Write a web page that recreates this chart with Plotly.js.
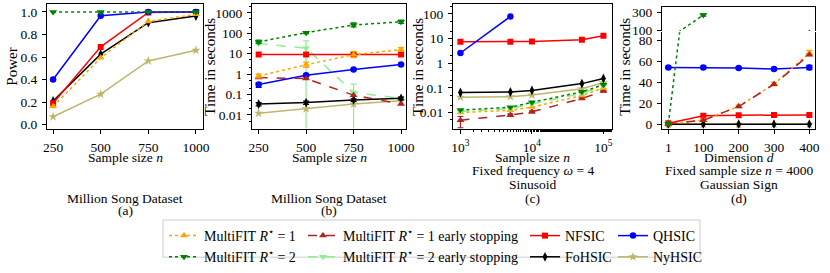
<!DOCTYPE html>
<html>
<head>
<meta charset="utf-8">
<script src="https://cdn.plot.ly/plotly-3.0.1.min.js"></script>
<style>html,body{margin:0;padding:0;background:#fff;}#chart{width:830px;height:273px;}</style>
</head>
<body>
<div id="chart"></div>
<script>
// ---------- DATA ----------
// (a) Million Song Dataset: power vs sample size
const sampleSizesA = [250, 500, 750, 1000];
const powA_MF1 = [0.16, 0.594, 0.915, 0.98];
const powA_MF2 = [1.0, 1.0, 1.0, 1.0];
const powA_NFSIC = [0.19, 0.69, 0.995, 1.0];
const powA_FoHSIC = [0.21, 0.625, 0.905, 0.963];
const powA_QHSIC = [0.40, 0.966, 1.0, 1.0];
const powA_NyHSIC = [0.07, 0.27, 0.565, 0.66];
const powTicks = [0, 0.2, 0.4, 0.6, 0.8, 1.0];
const powTickText = ["0.0", "0.2", "0.4", "0.6", "0.8", "1.0"];

// (b) Million Song Dataset: time vs sample size
const sampleSizesB = [250, 500, 750, 1000];
const timeB_MF1 = [0.8, 2.84, 8.9, 15.9];
const timeB_MF1es = [0.68, 0.6, 0.093, 0.034];
const timeB_MF2 = [37.8, 107, 255, 365];
const timeB_MF2es = [31.6, 18.5, 0.124, 0.065];
const timeB_NFSIC = [9, 9, 9, 9];
const timeB_FoHSIC = [0.034, 0.04, 0.054, 0.065];
const timeB_QHSIC = [0.305, 0.87, 1.66, 2.95];
const timeB_NyHSIC = [0.012, 0.02, 0.034, 0.049];
const errB_MF2es_plus = [6, 23.5, 0.2, 0.01];
const errB_MF2es_minus = [5, 18.499, 0.1236, 0.008];
const errB_MF1_plus = [0.2, 1.0, 4, 4];
const errB_MF1_minus = [0.15, 0.7, 2.5, 3];
const errB_MF2_plus = [8, 15, 70, 80];
const errB_MF2_minus = [6, 12, 50, 60];
const errB_QHSIC = [0.08, 0.1, 0.1, 0.15];
const errB_FoHSIC = [0.006, 0.007, 0.008, 0.01];
const timeTicksB = [0.01, 0.1, 1, 10, 100, 1000];
const timeTickTextB = ["0.01", "0.1", "1", "10", "100", "1000"];

// (c) Sinusoid: time vs sample size (log-log)
const sampleSizesC = [1000, 5000, 10000, 50000, 100000];
const sampleSizesC_QHSIC = [1000, 5000];
const timeC_QHSIC = [2.6, 79];
const timeC_NFSIC = [7.5, 7.5, 7.6, 9, 12.9];
const timeC_FoHSIC = [0.065, 0.068, 0.079, 0.149, 0.24];
const timeC_NyHSIC = [0.042, 0.044, 0.051, 0.093, 0.16];
const timeC_MF2 = [0.0126, 0.0163, 0.026, 0.069, 0.133];
const timeC_MF2es = [0.011, 0.0145, 0.022, 0.06, 0.12];
const timeC_MF1 = [0.010, 0.0123, 0.0166, 0.049, 0.10];
const timeC_MF1es = [0.0049, 0.0079, 0.0107, 0.037, 0.074];
const errC_MF1es_minus = [0.0025, 0.001, 0.001, 0.003, 0.005];
const errC_MF1es_plus = [0.002, 0.001, 0.001, 0.003, 0.005];
const sizeTicksC = [1000, 10000, 100000];
const sizeTickTextC = ["10<sup>3</sup>", "10<sup>4</sup>", "10<sup>5</sup>"];
const timeTicksC = [0.01, 0.1, 1, 10, 100];
const timeTickTextC = ["0.01", "0.1", "1", "10", "100"];

// (d) Gaussian Sign: time vs dimension
const dimsD = [1, 100, 200, 300, 400];
const dimsD_MF2 = [1, 100];
const timeD_MF2 = [0.6, 270];
const timeD_QHSIC = [54, 54, 53.4, 52.5, 54];
const timeD_NFSIC = [1.2, 8.2, 8.75, 9, 9];
const timeD_MF1 = [0.5, 4.2, 17.2, 38.3, 67.6];
const timeD_MF1es = [0.5, 4.0, 17, 38, 66];
const timeD_FoHSIC = [0.2, 0.2, 0.2, 0.2, 0.2];
const timeD_NyHSIC = [0.1, 0.1, 0.1, 0.1, 0.1];
const errD_MF1 = [0.3, 0.8, 1.2, 1.5, 2.5];
const errD_QHSIC = [1, 1, 1, 1, 2];
const timeTicksDlow = [0, 20, 40, 60, 80];
const timeTicksDhigh = [100, 300];

// ---------- STYLES ----------
const FONT = "Liberation Serif, Times New Roman, serif";
const S = {
  MF1:   {name: "MultiFIT <i>R</i><sup>⋆</sup> = 1", color: "#FFA500", dash: "dot", symbol: "triangle-up", size: 7},
  MF2:   {name: "MultiFIT <i>R</i><sup>⋆</sup> = 2", color: "#008000", dash: "dot", symbol: "triangle-down", size: 7},
  MF1es: {name: "MultiFIT <i>R</i><sup>⋆</sup> = 1 early stopping", color: "#B22222", dash: "dash", symbol: "triangle-up", size: 7},
  MF2es: {name: "MultiFIT <i>R</i><sup>⋆</sup> = 2 early stopping", color: "#90EE90", dash: "dash", symbol: "triangle-down", size: 7},
  NFSIC: {name: "NFSIC", color: "#FF0000", dash: "solid", symbol: "square", size: 6},
  FoHSIC:{name: "FoHSIC", color: "#000000", dash: "solid", symbol: "diamond-tall", size: 7},
  QHSIC: {name: "QHSIC", color: "#0000FF", dash: "solid", symbol: "circle", size: 6.5},
  NyHSIC:{name: "NyHSIC", color: "#BDB76B", dash: "solid", symbol: "star", size: 7}
};

function tr(key, x, y, xa, ya, opts) {
  const s = S[key];
  const t = {
    type: "scatter", mode: "lines+markers", x: x, y: y, xaxis: xa, yaxis: ya,
    name: s.name, showlegend: false, cliponaxis: true,
    line: {color: s.color, dash: s.dash, width: 1.5},
    marker: {color: s.color, symbol: s.symbol, size: s.size}
  };
  if (opts) Object.assign(t, opts);
  return t;
}
function err(plus, minus, color) {
  return {type: "data", array: plus, arrayminus: minus || plus, symmetric: !minus, color: color, thickness: 1.2, width: 3, visible: true};
}

const traces = [];
// (a)
traces.push(tr("NyHSIC", sampleSizesA, powA_NyHSIC, "x", "y"));
traces.push(tr("FoHSIC", sampleSizesA, powA_FoHSIC, "x", "y"));
traces.push(tr("NFSIC", sampleSizesA, powA_NFSIC, "x", "y"));
traces.push(tr("QHSIC", sampleSizesA, powA_QHSIC, "x", "y"));
traces.push(tr("MF1", sampleSizesA, powA_MF1, "x", "y"));
traces.push(tr("MF2", sampleSizesA, powA_MF2, "x", "y"));

// (b) - carries the legend
traces.push(tr("MF2es", sampleSizesB, timeB_MF2es, "x2", "y2", {showlegend: true, legend: "legend2", legendrank: 2, error_y: err(errB_MF2es_plus, errB_MF2es_minus, "#90EE90")}));
traces.push(tr("NyHSIC", sampleSizesB, timeB_NyHSIC, "x2", "y2", {showlegend: true, legend: "legend4", legendrank: 2}));
traces.push(tr("FoHSIC", sampleSizesB, timeB_FoHSIC, "x2", "y2", {showlegend: true, legend: "legend3", legendrank: 2, error_y: err(errB_FoHSIC, null, "#000000")}));
traces.push(tr("QHSIC", sampleSizesB, timeB_QHSIC, "x2", "y2", {showlegend: true, legend: "legend4", legendrank: 1, error_y: err(errB_QHSIC, null, "#0000FF")}));
traces.push(tr("NFSIC", sampleSizesB, timeB_NFSIC, "x2", "y2", {showlegend: true, legend: "legend3", legendrank: 1}));
traces.push(tr("MF1es", sampleSizesB, timeB_MF1es, "x2", "y2", {showlegend: true, legend: "legend2", legendrank: 1}));
traces.push(tr("MF1", sampleSizesB, timeB_MF1, "x2", "y2", {showlegend: true, legend: "legend", legendrank: 1, error_y: err(errB_MF1_plus, errB_MF1_minus, "#FFA500")}));
traces.push(tr("MF2", sampleSizesB, timeB_MF2, "x2", "y2", {showlegend: true, legend: "legend", legendrank: 2, error_y: err(errB_MF2_plus, errB_MF2_minus, "#008000")}));

// (c)
traces.push(tr("NyHSIC", sampleSizesC, timeC_NyHSIC, "x3", "y3"));
traces.push(tr("FoHSIC", sampleSizesC, timeC_FoHSIC, "x3", "y3"));
traces.push(tr("MF1es", sampleSizesC, timeC_MF1es, "x3", "y3", {error_y: err(errC_MF1es_plus, errC_MF1es_minus, "#B22222")}));
traces.push(tr("MF1", sampleSizesC, timeC_MF1, "x3", "y3"));
traces.push(tr("MF2es", sampleSizesC, timeC_MF2es, "x3", "y3"));
traces.push(tr("MF2", sampleSizesC, timeC_MF2, "x3", "y3"));
traces.push(tr("NFSIC", sampleSizesC, timeC_NFSIC, "x3", "y3"));
traces.push(tr("QHSIC", sampleSizesC_QHSIC, timeC_QHSIC, "x3", "y3"));

// (d) lower and upper (broken axis)
["x4|y4", "x5|y5"].forEach(function (p) {
  const xa = p.split("|")[0], ya = p.split("|")[1];
  traces.push(tr("NyHSIC", dimsD, timeD_NyHSIC, xa, ya));
  traces.push(tr("FoHSIC", dimsD, timeD_FoHSIC, xa, ya));
  traces.push(tr("NFSIC", dimsD, timeD_NFSIC, xa, ya));
  traces.push(tr("QHSIC", dimsD, timeD_QHSIC, xa, ya, {error_y: err(errD_QHSIC, null, "#0000FF")}));
  traces.push(tr("MF1", dimsD, timeD_MF1, xa, ya, {error_y: err(errD_MF1, null, "#FFA500")}));
  traces.push(tr("MF1es", dimsD, timeD_MF1es, xa, ya));
  traces.push(tr("MF2", dimsD_MF2, timeD_MF2, xa, ya, {error_y: err([0.5, 12], null, "#008000")}));
});

// ---------- LAYOUT ----------
const W = 830, H = 273;
const px = v => v / W;
const py = v => 1 - v / H;
const tickFont = {family: FONT, size: 13.5, color: "#000"};
const baseAx = {
  showline: true, linecolor: "#000", linewidth: 1, mirror: true,
  ticks: "outside", ticklen: 4, tickwidth: 1, tickcolor: "#000", ticklabelstandoff: 2,
  showgrid: false, zeroline: false, tickfont: tickFont, fixedrange: true
};
function ax(extra) { return Object.assign({}, baseAx, extra); }

const yTop = py(4.5), yBot = py(135);
const legFont = {family: FONT, size: 14, color: "#000"};
function leg(x) {
  return {x: px(x), y: py(231), xanchor: "left", yanchor: "top", bgcolor: "rgba(0,0,0,0)", font: legFont, traceorder: "normal", itemwidth: 30, tracegroupgap: 0};
}

const layout = {
  width: W, height: H,
  margin: {l: 0, r: 0, t: 0, b: 0, pad: 0},
  paper_bgcolor: "#fff", plot_bgcolor: "#fff",
  font: {family: FONT, size: 14, color: "#000"},
  xaxis: ax({domain: [px(47), px(203)], range: [218, 1037], anchor: "y", tickvals: sampleSizesA}),
  yaxis: ax({domain: [yBot, yTop], range: [-0.035, 1.068], anchor: "x", tickvals: powTicks, ticktext: powTickText}),
  xaxis2: ax({domain: [px(252), px(406)], range: [215, 1026], anchor: "y2", tickvals: sampleSizesB}),
  yaxis2: ax({domain: [yBot, yTop], type: "log", range: [-2.67, 3.42], anchor: "x2",
    tickvals: timeTicksB, ticktext: timeTickTextB,
    minor: {ticks: "outside", ticklen: 2, tickcolor: "#000", showgrid: false}}),
  xaxis3: ax({domain: [px(453), px(612)], type: "log", range: [2.896, 5.12], anchor: "y3",
    tickvals: sizeTicksC, ticktext: sizeTickTextC,
    minor: {ticks: "outside", ticklen: 2, tickcolor: "#000", showgrid: false}}),
  yaxis3: ax({domain: [yBot, yTop], type: "log", range: [-2.65, 2.39], anchor: "x3",
    tickvals: timeTicksC, ticktext: timeTickTextC,
    minor: {ticks: "outside", ticklen: 2, tickcolor: "#000", showgrid: false}}),
  xaxis4: ax({domain: [px(662), px(815)], range: [-16.9, 416], anchor: "y4", mirror: false, tickvals: dimsD}),
  yaxis4: ax({domain: [yBot, py(33.8)], range: [-3.9, 87.4], anchor: "x4", tickvals: timeTicksDlow}),
  xaxis5: ax({domain: [px(662), px(815)], range: [-16.9, 416], anchor: "y5", side: "top", mirror: false, ticks: "", showticklabels: false}),
  yaxis5: ax({domain: [py(32.5), py(7)], range: [91, 365], anchor: "x5", tickvals: timeTicksDhigh}),
  legend: leg(164), legend2: leg(303), legend3: leg(525), legend4: leg(613),
  shapes: [
    {type: "rect", xref: "paper", yref: "paper", x0: px(163), x1: px(700), y0: py(231), y1: py(270), line: {color: "#cccccc", width: 1}}
  ],
  annotations: []
};

function ann(text, x, y, extra) {
  layout.annotations.push(Object.assign({text: text, xref: "paper", yref: "paper", x: px(x), y: py(y), xanchor: "center", yanchor: "middle", showarrow: false, font: {family: FONT, size: 13.5, color: "#000"}}, extra || {}));
}
const yTitleFont = {family: FONT, size: 15, color: "#000"};
ann("Power", 12, 70, {textangle: -90, font: yTitleFont});
ann("Time in seconds", 210, 70, {textangle: -90, font: yTitleFont});
ann("Time in seconds", 418, 70, {textangle: -90, font: yTitleFont});
ann("Time in seconds", 625, 70, {textangle: -90, font: yTitleFont});

const cA = 125, cB = 329, cC = 532.5, cD = 738.5;
const r1 = 165, r2 = 179, r3 = 193.5, r4 = 208, r5 = 221.5;
ann("Sample size <i>n</i>", cA, r1);
ann("Million Song Dataset", cA, r4);
ann("(a)", cA, r5);
ann("Sample size <i>n</i>", cB, r1);
ann("Million Song Dataset", cB, r4);
ann("(b)", cB, r5);
ann("Sample size <i>n</i>", cC, r1);
ann("Fixed frequency <i>ω</i> = 4", cC, r2);
ann("Sinusoid", cC, r3);
ann("(c)", cC, r4);
ann("Dimension <i>d</i>", cD, r1);
ann("Fixed sample size <i>n</i> = 4000", cD, r2);
ann("Gaussian Sign", cD, r3);
ann("(d)", cD, r4);

Plotly.newPlot("chart", traces, layout, {displayModeBar: false, staticPlot: true});
</script>
</body>
</html>
